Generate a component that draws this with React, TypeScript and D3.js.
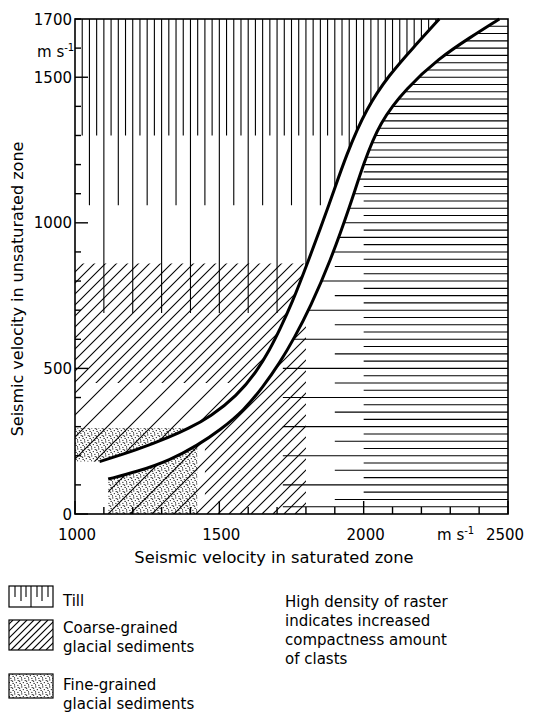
import React from 'react';
import * as d3 from 'd3';

// ---- data ----
// band edges (saturated velocity, unsaturated velocity), m/s
const upperCurve: [number, number][] = [
  [1085, 180], [1215, 220], [1330, 265], [1390, 292], [1470, 335], [1560, 405],
  [1630, 490], [1675, 565], [1710, 635], [1750, 720], [1805, 860], [1885, 1075],
  [1940, 1235], [2010, 1395], [2090, 1510], [2170, 1600], [2262, 1700],
];
const lowerCurve: [number, number][] = [
  [1115, 120], [1215, 145], [1330, 185], [1425, 236], [1505, 290], [1585, 356],
  [1650, 435], [1710, 520], [1760, 605], [1815, 710], [1885, 870], [1950, 1050],
  [2000, 1205], [2055, 1345], [2148, 1463], [2262, 1566], [2366, 1635], [2470, 1700],
];
const xTickLabels = [1000, 1500, 2000, 2500];
const yTickLabels = [0, 500, 1000, 1500, 1700];
const xMinorTicks = d3.range(1000, 2501, 100);
const yMinorTicks = d3.range(0, 1701, 100);

// Till raster (vertical lines): positions and lower ends
const tillLong = [1100, 1200, 1300, 1400, 1500, 1600, 1700, 1800, 1900, 2000, 2100, 2200];
const tillLongBottom = 690;
const tillMid = [1050, 1150, 1250, 1350, 1450, 1550, 1650, 1750, 1850, 1950, 2050, 2150, 2250];
const tillMidBottom = 1060;
const tillShort = [1025, 1075, 1125, 1175, 1225, 1275, 1325, 1375, 1425, 1475, 1525, 1575, 1625, 1675, 1725, 1775, 1825, 1875, 1925, 1975, 2025, 2075, 2125, 2175, 2225];
const tillShortBottom = 1300;

// right field: horizontal raster
const hLong = [25, 100, 200, 300, 400, 500, 600, 700, 800, 900, 1000, 1100, 1200, 1300, 1400, 1500, 1600];
const hLongFrom = 1720;
const hMid = [50, 150, 250, 350, 450, 550, 650, 750, 850, 950, 1050, 1150, 1250, 1350, 1450, 1550, 1650];
const hMidFrom = 1900;
const hShort = [75, 125, 175, 225, 275, 325, 375, 425, 475, 525, 575, 625, 675, 725, 775, 825, 875, 925, 975, 1025, 1075, 1125, 1175, 1225, 1275, 1325, 1375, 1425, 1475, 1525, 1575, 1625, 1675];
const hShortFrom = 2000;

// coarse-grained limits
const coarseTopLeft = 860;
const coarseDenseBottomLeft = 450;
const coarseRightMax = 1800;
const coarseDenseRightMin = 1450;
// fine-grained limits
const fineTopLeft = 295;
const fineRightMax = 1425;

const STIPPLE: [number, number][] = [[0.8, 0.9], [4.2, 1.6], [2.3, 3.6], [6.1, 4.4], [0.5, 5.9], [3.9, 6.3], [5.6, 2.2]];

const FONT = 'DejaVu Sans, sans-serif';

export default function App() {
  const x = d3.scaleLinear().domain([1000, 2500]).range([75, 508]);
  const y = d3.scaleLinear().domain([0, 1700]).range([514, 19]);
  const line = d3.line<[number, number]>().x(d => x(d[0])).y(d => y(d[1])).curve(d3.curveBasis);
  const upperD = line(upperCurve) as string;
  const lowerD = line(lowerCurve) as string;

  const x0 = x(1000), x1 = x(2500), yb = y(0), yt = y(1700);
  const regionL = `M${x0},${yt}L${x0},${y(upperCurve[0][1])}` + upperD.replace(/^M/, 'L') + 'Z';
  const regionR = `M${x(lowerCurve[0][0])},${yb}` + lowerD.replace(/^M/, 'L') + `L${x1},${yt}L${x1},${yb}Z`;

  const cs = d3.range(x0 + yt, x1 + yb + 11, 11);
  const diag = (c: number, i: number) => (
    <line key={i} x1={c - yb} y1={yb} x2={c - yt} y2={yt} stroke="#000" strokeWidth={1.1} />
  );
  const baseDiag = cs.filter((_, i) => i % 2 === 0);
  const midDiag = cs.filter((_, i) => i % 2 === 1);

  // legend geometry
  const lx = 9, lw = 44;
  const tillBox = { y: 586, h: 21 };
  const coarseBox = { y: 620, h: 30 };
  const fineBox = { y: 674, h: 24 };

  return (
    <svg width={533} height={726} style={{ position: 'absolute', left: 0, top: 0, background: '#fff' }} fontFamily={FONT}>
      <defs>
        <clipPath id="cL"><path d={regionL} /></clipPath>
        <clipPath id="cR"><path d={regionR} /></clipPath>
        <clipPath id="cDiagL"><rect x={x0} y={y(coarseTopLeft)} width={x1 - x0} height={yb - y(coarseTopLeft)} /></clipPath>
        <clipPath id="cDiagLd"><rect x={x0} y={y(coarseTopLeft)} width={x1 - x0} height={y(coarseDenseBottomLeft) - y(coarseTopLeft)} /></clipPath>
        <clipPath id="cStipL"><rect x={x0} y={y(fineTopLeft)} width={x1 - x0} height={yb - y(fineTopLeft)} /></clipPath>
        <clipPath id="cDiagR"><rect x={x0} y={yt} width={x(coarseRightMax) - x0} height={yb - yt} /></clipPath>
        <clipPath id="cDiagRd"><rect x={x(coarseDenseRightMin)} y={yt} width={x(coarseRightMax) - x(coarseDenseRightMin)} height={yb - yt} /></clipPath>
        <clipPath id="cStipR"><rect x={x0} y={yt} width={x(fineRightMax) - x0} height={yb - yt} /></clipPath>
        <clipPath id="cLegC"><rect x={lx} y={coarseBox.y} width={lw} height={coarseBox.h} /></clipPath>
        <pattern id="stip" width={7} height={7} patternUnits="userSpaceOnUse">
          {STIPPLE.map((p, i) => <circle key={i} cx={p[0]} cy={p[1]} r={0.62} fill="#000" />)}
        </pattern>
      </defs>

      {/* left field */}
      <g clipPath="url(#cL)">
        {tillLong.map((v, i) => <line key={'a' + i} x1={x(v)} x2={x(v)} y1={yt} y2={y(tillLongBottom)} stroke="#000" strokeWidth={1.1} />)}
        {tillMid.map((v, i) => <line key={'b' + i} x1={x(v)} x2={x(v)} y1={yt} y2={y(tillMidBottom)} stroke="#000" strokeWidth={1.1} />)}
        {tillShort.map((v, i) => <line key={'c' + i} x1={x(v)} x2={x(v)} y1={yt} y2={y(tillShortBottom)} stroke="#000" strokeWidth={1.1} />)}
        <g clipPath="url(#cStipL)"><rect x={x0} y={yt} width={x1 - x0} height={yb - yt} fill="url(#stip)" /></g>
        <g clipPath="url(#cDiagL)">{baseDiag.map(diag)}</g>
        <g clipPath="url(#cDiagLd)">{midDiag.map(diag)}</g>
      </g>

      {/* right field */}
      <g clipPath="url(#cR)">
        <g clipPath="url(#cStipR)"><rect x={x0} y={yt} width={x1 - x0} height={yb - yt} fill="url(#stip)" /></g>
        <g clipPath="url(#cDiagR)">{baseDiag.map(diag)}</g>
        <g clipPath="url(#cDiagRd)">{midDiag.map(diag)}</g>
        {hLong.map((v, i) => <line key={'h' + i} x1={x(hLongFrom)} x2={x1} y1={y(v)} y2={y(v)} stroke="#000" strokeWidth={1.1} />)}
        {hMid.map((v, i) => <line key={'m' + i} x1={x(hMidFrom)} x2={x1} y1={y(v)} y2={y(v)} stroke="#000" strokeWidth={1.1} />)}
        {hShort.map((v, i) => <line key={'s' + i} x1={x(hShortFrom)} x2={x1} y1={y(v)} y2={y(v)} stroke="#000" strokeWidth={1.1} />)}
      </g>

      {/* band edges */}
      <path d={upperD} fill="none" stroke="#000" strokeWidth={3} />
      <path d={lowerD} fill="none" stroke="#000" strokeWidth={3} />

      {/* frame */}
      <rect x={x0} y={yt} width={x1 - x0} height={yb - yt} fill="none" stroke="#000" strokeWidth={1.6} />

      {/* ticks */}
      {yMinorTicks.map(v => (
        <line key={'yt' + v} x1={x0} x2={x0 + (v % 500 === 0 ? 13 : 6)} y1={y(v)} y2={y(v)} stroke="#000" strokeWidth={1.4} />
      ))}
      {xMinorTicks.map(v => (
        <line key={'xt' + v} x1={x(v)} x2={x(v)} y1={yb} y2={yb - (v % 500 === 0 ? 13 : 7)} stroke="#000" strokeWidth={1.4} />
      ))}

      {/* tick labels */}
      {yTickLabels.map(v => (
        <text key={'yl' + v} x={x0 - 3} y={y(v) + 5.5} textAnchor="end" fontSize={15}>{v}</text>
      ))}
      <text x={37} y={57} fontSize={15}>m s<tspan fontSize={10} dy={-6}>-1</tspan></text>
      {xTickLabels.map(v => (
        <text key={'xl' + v} x={v === 2500 ? x(v) - 3 : x(v) + 2} y={540} textAnchor="middle" fontSize={15}>{v}</text>
      ))}
      <text x={437} y={540} fontSize={15}>m s<tspan fontSize={10} dy={-6}>-1</tspan></text>

      {/* axis titles */}
      <text x={274} y={563} textAnchor="middle" fontSize={16.3}>Seismic velocity in saturated zone</text>
      <text transform="translate(23,289) rotate(-90)" textAnchor="middle" fontSize={16}>Seismic velocity in unsaturated zone</text>

      {/* legend */}
      <rect x={lx} y={tillBox.y} width={lw} height={tillBox.h} fill="none" stroke="#000" strokeWidth={1.2} />
      {[[6, 11], [12, 15], [17, 11], [22, 21], [28, 11], [33, 15], [39, 11]].map(([dx, len], i) => (
        <line key={'lt' + i} x1={lx + dx} x2={lx + dx} y1={tillBox.y} y2={tillBox.y + len} stroke="#000" strokeWidth={1.1} />
      ))}
      <text x={63} y={606} fontSize={15}>Till</text>

      <g clipPath="url(#cLegC)">
        {d3.range(lx + coarseBox.y - 10, lx + lw + coarseBox.y + coarseBox.h + 10, 7).map((c, i) => (
          <line key={'lc' + i} x1={c - coarseBox.y - coarseBox.h} y1={coarseBox.y + coarseBox.h} x2={c - coarseBox.y} y2={coarseBox.y} stroke="#000" strokeWidth={1.1} />
        ))}
      </g>
      <rect x={lx} y={coarseBox.y} width={lw} height={coarseBox.h} fill="none" stroke="#000" strokeWidth={1.2} />
      <text x={63} y={633} fontSize={15}>Coarse-grained</text>
      <text x={63} y={652} fontSize={15}>glacial sediments</text>

      <rect x={lx} y={fineBox.y} width={lw} height={fineBox.h} fill="url(#stip)" stroke="#000" strokeWidth={1.2} />
      <text x={63} y={690} fontSize={15}>Fine-grained</text>
      <text x={63} y={709} fontSize={15}>glacial sediments</text>

      <text x={285} y={607} fontSize={15}>High density of raster</text>
      <text x={285} y={626} fontSize={15}>indicates increased</text>
      <text x={285} y={645} fontSize={15}>compactness amount</text>
      <text x={285} y={664} fontSize={15}>of clasts</text>
    </svg>
  );
}
